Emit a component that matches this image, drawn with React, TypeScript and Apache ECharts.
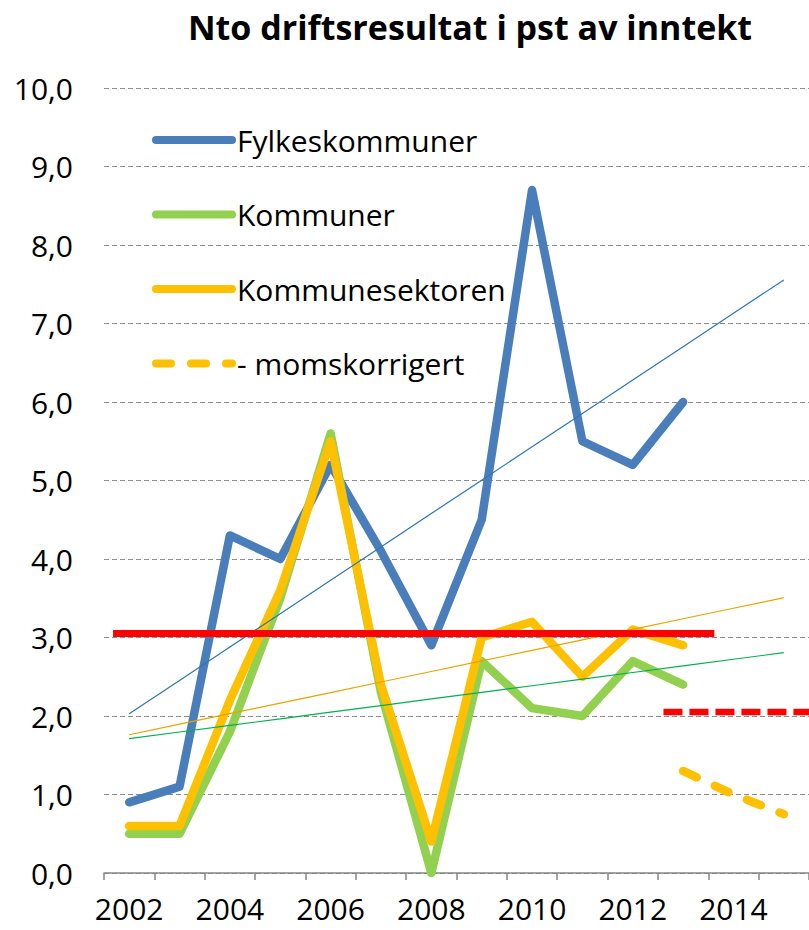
import React, { useEffect, useRef } from 'react';
import * as echarts from 'echarts';

const FONT = '"Open Sans", "Noto Sans", sans-serif';

const titleText = 'Nto driftsresultat i pst av inntekt';

const years = ['2002', '2003', '2004', '2005', '2006', '2007', '2008', '2009', '2010', '2011', '2012', '2013', '2014', '2015'];

const fylkeskommuner = [0.9, 1.1, 4.3, 4.0, 5.2, 4.1, 2.9, 4.5, 8.7, 5.5, 5.2, 6.0, null, null];
const kommuner = [0.5, 0.5, 1.8, 3.5, 5.6, 2.3, 0.0, 2.7, 2.1, 2.0, 2.7, 2.4, null, null];
const kommunesektoren = [0.6, 0.6, 2.2, 3.6, 5.5, 2.4, 0.4, 3.0, 3.2, 2.5, 3.1, 2.9, null, null];
const momskorrigert = [null, null, null, null, null, null, null, null, null, null, null, 1.3, 1.0, 0.75];

// Red reference lines drawn across the years (start year, end year, level)
const redSolidYears = [2001.68, 2013.62];
const redSolidLevel = 3.05;
const redDashedYears = [2012.61, 2015.5];
const redDashedLevel = 2.05;

const yTicks = { min: 0, max: 10, interval: 1 };

const seriesNames = ['Fylkeskommuner', 'Kommuner', 'Kommunesektoren', '- momskorrigert'];

function linearTrend(values: (number | null)[]): number[] {
  const pts = values.map((v, i) => [i, v] as [number, number | null]).filter((p) => p[1] != null) as [number, number][];
  const n = pts.length;
  let sx = 0, sy = 0, sxx = 0, sxy = 0;
  pts.forEach(([x, y]) => { sx += x; sy += y; sxx += x * x; sxy += x * y; });
  const b = (n * sxy - sx * sy) / (n * sxx - sx * sx);
  const a = (sy - b * sx) / n;
  return years.map((_, i) => +(a + b * i).toFixed(4));
}

export default function App() {
  const ref = useRef<HTMLDivElement>(null);
  useEffect(() => {
    const chart = echarts.init(ref.current!, null, { renderer: 'svg' });
    const thick = (color: string) => ({ width: 8.5, color, cap: 'round', join: 'round' });
    const thin = (color: string) => ({ width: 1.2, color });
    chart.setOption({
      animation: false,
      backgroundColor: '#ffffff',
      title: {
        text: titleText,
        left: 470,
        top: 9,
        padding: 0,
        textAlign: 'center',
        textStyle: { fontFamily: FONT, fontSize: 34, fontWeight: 'bold', color: '#000', lineHeight: 36 },
      },
      legend: {
        orient: 'vertical',
        left: 152,
        top: 125,
        padding: 0,
        itemWidth: 76,
        itemHeight: 8,
        itemGap: 44.5,
        selectedMode: false,
        data: seriesNames,
        lineStyle: { width: 8, cap: 'round' },
        textStyle: { fontFamily: FONT, fontSize: 30, color: '#000', lineHeight: 30 },
      },
      grid: { left: 104, right: -5, top: 88, bottom: 57, containLabel: false },
      xAxis: [
        {
          type: 'category',
          data: years,
          boundaryGap: true,
          axisLine: { lineStyle: { color: '#868686', width: 1.5 } },
          axisTick: { show: true, interval: 0, length: 7, lineStyle: { color: '#868686', width: 1.5 } },
          axisLabel: { interval: 1, margin: 23, fontFamily: FONT, fontSize: 30, lineHeight: 24, color: '#000' },
          splitLine: { show: false },
        },
        {
          type: 'value',
          min: 2001.5,
          max: 2015.5,
          show: false,
        },
      ],
      yAxis: {
        type: 'value',
        min: yTicks.min,
        max: yTicks.max,
        interval: yTicks.interval,
        axisLine: { show: false },
        axisTick: { show: false },
        axisLabel: {
          margin: 31,
          fontFamily: FONT,
          fontSize: 30,
          color: '#000',
          formatter: (v: number) => v.toFixed(1).replace('.', ','),
        },
        splitLine: { lineStyle: { color: '#8c8c8c', width: 1.2, type: [5, 3] } },
      },
      series: [
        { name: seriesNames[0], type: 'line', data: fylkeskommuner, symbol: 'none', lineStyle: thick('#4A7EBB'), itemStyle: { color: '#4A7EBB' } },
        { name: seriesNames[1], type: 'line', data: kommuner, symbol: 'none', lineStyle: thick('#92D050'), itemStyle: { color: '#92D050' } },
        { name: seriesNames[2], type: 'line', data: kommunesektoren, symbol: 'none', lineStyle: thick('#FFC000'), itemStyle: { color: '#FFC000' } },
        {
          name: seriesNames[3], type: 'line', data: momskorrigert, symbol: 'none',
          lineStyle: { width: 8.5, color: '#FFC000', cap: 'round', join: 'round', type: [15, 20] },
          itemStyle: { color: '#FFC000' },
        },
        { name: 'Trend Fylkeskommuner', type: 'line', data: linearTrend(fylkeskommuner), symbol: 'none', lineStyle: thin('#2E75B6'), silent: true },
        { name: 'Trend Kommuner', type: 'line', data: linearTrend(kommuner), symbol: 'none', lineStyle: thin('#00B050'), silent: true },
        { name: 'Trend Kommunesektoren', type: 'line', data: linearTrend(kommunesektoren), symbol: 'none', lineStyle: thin('#E3A600'), silent: true },
        {
          name: 'Rød linje', type: 'line', xAxisIndex: 1, symbol: 'none', silent: true,
          data: redSolidYears.map((y) => [y, redSolidLevel]),
          lineStyle: { width: 7, color: '#FF0000', cap: 'butt' },
        },
        {
          name: 'Rød stiplet', type: 'line', xAxisIndex: 1, symbol: 'none', silent: true,
          data: redDashedYears.map((y) => [y, redDashedLevel]),
          lineStyle: { width: 6.5, color: '#FF0000', cap: 'butt', type: [19, 7] },
        },
      ],
    });
    return () => chart.dispose();
  }, []);
  return (
    <div
      ref={ref}
      style={{ position: 'fixed', left: 0, top: 0, width: 809, height: 930, background: '#fff' }}
    />
  );
}
